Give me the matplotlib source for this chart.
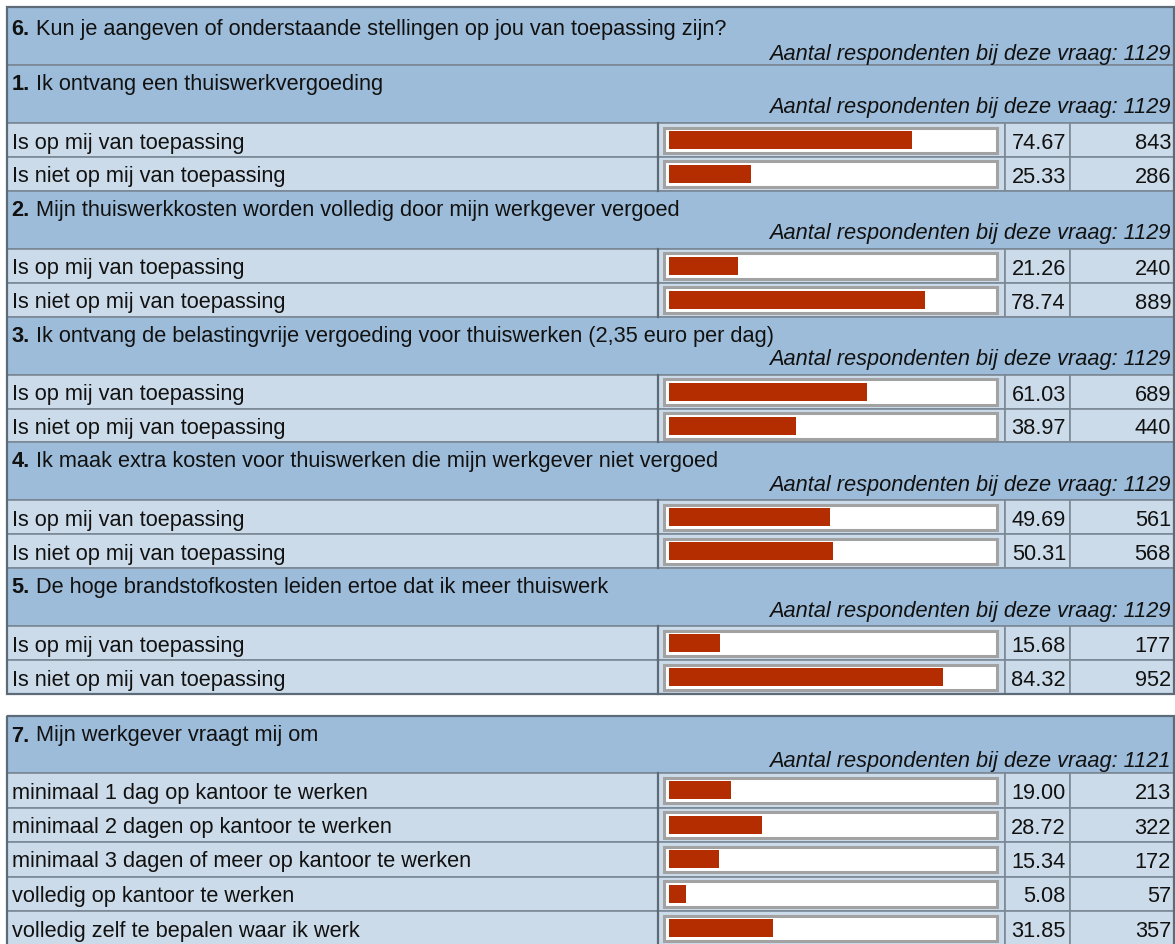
import matplotlib
matplotlib.use("Agg")
import matplotlib.pyplot as plt
from matplotlib.patches import Rectangle

plt.rcParams['font.family'] = ['Liberation Sans', 'DejaVu Sans']

# ---- data ----
main_title = "Kun je aangeven of onderstaande stellingen op jou van toepassing zijn?"
main_n = 1129
sub_titles = [
    "Ik ontvang een thuiswerkvergoeding",
    "Mijn thuiswerkkosten worden volledig door mijn werkgever vergoed",
    "Ik ontvang de belastingvrije vergoeding voor thuiswerken (2,35 euro per dag)",
    "Ik maak extra kosten voor thuiswerken die mijn werkgever niet vergoed",
    "De hoge brandstofkosten leiden ertoe dat ik meer thuiswerk",
]
sub_n = [1129, 1129, 1129, 1129, 1129]
options6 = ["Is op mij van toepassing", "Is niet op mij van toepassing"]
pct6 = [[74.67, 25.33], [21.26, 78.74], [61.03, 38.97], [49.69, 50.31], [15.68, 84.32]]
cnt6 = [[843, 286], [240, 889], [689, 440], [561, 568], [177, 952]]

q7_title = "Mijn werkgever vraagt mij om"
q7_n = 1121
options7 = [
    "minimaal 1 dag op kantoor te werken",
    "minimaal 2 dagen op kantoor te werken",
    "minimaal 3 dagen of meer op kantoor te werken",
    "volledig op kantoor te werken",
    "volledig zelf te bepalen waar ik werk",
]
pct7 = [19.00, 28.72, 15.34, 5.08, 31.85]
cnt7 = [213, 322, 172, 57, 357]

# ---- style ----
W, H = 1175, 945
HEAD = '#9dbcd9'
ROWC = '#ccdbe9'
LINE = '#7b8896'
DARK = '#5d6b79'
BAR = '#b32d00'
TXT = '#111111'
FS = 15.7
x0, x1, x2, x3, x4 = 7, 658, 1005, 1070, 1174

fig = plt.figure(figsize=(W / 100, H / 100), dpi=100)
ax = fig.add_axes([0, 0, 1, 1])
ax.set_xlim(0, W)
ax.set_ylim(H, 0)
ax.axis('off')

# bar axis: 0..100 % maps onto the bar cell
bax = fig.add_axes([669 / W, 0, 325 / W, 1], zorder=3)
bax.set_xlim(0, 100)
bax.set_ylim(H, 0)
bax.axis('off')
bax.patch.set_alpha(0)


def header(y, h, num, title, n, t_off, s_off):
    ax.add_patch(Rectangle((x0, y), x4 - x0, h, fc=HEAD, ec=LINE, lw=1.2))
    t = ax.text(11.5, y + t_off, num + ".", fontsize=FS, fontweight='bold',
                color=TXT, va='baseline')
    ax.annotate(" " + title, xy=(1, 0), xycoords=t, va='bottom', ha='left',
                fontsize=FS, color=TXT)
    ax.text(1171, y + s_off, "Aantal respondenten bij deze vraag: %d" % n,
            fontsize=FS, style='italic', color=TXT, ha='right', va='baseline')


def row(y, h, label, pct, cnt):
    for a, b in [(x0, x1), (x1, x2), (x2, x3), (x3, x4)]:
        ax.add_patch(Rectangle((a, y), b - a, h, fc=ROWC, ec=LINE, lw=1.2))
    ax.plot([x1, x1], [y, y + h], color=DARK, lw=1.6)
    ax.text(11.5, y + 24.5, label, fontsize=FS, color=TXT, va='baseline')
    ax.add_patch(Rectangle((664, y + 4.5), 333, 25.5, fc='white',
                           ec='#a2a2a2', lw=2.2))
    bax.barh(y + 17, pct, height=18, left=0, color=BAR)
    ax.text(1066, y + 25, "%.2f" % pct, fontsize=FS, color=TXT,
            ha='right', va='baseline')
    ax.text(1171, y + 25, str(cnt), fontsize=FS, color=TXT,
            ha='right', va='baseline')


# table 1
y = 8
header(y, 58, "6", main_title, main_n, 27, 52)
y += 58
for i, st in enumerate(sub_titles):
    header(y, 58, str(i + 1), st, sub_n[i], 24, 47.5)
    y += 58
    for j, opt in enumerate(options6):
        row(y, 33.9, opt, pct6[i][j], cnt6[i][j])
        y += 33.9
ax.add_patch(Rectangle((x0, 8), x4 - x0, y - 8, fill=False, ec=DARK, lw=1.6))

# table 2
y2 = 716.5
header(y2, 57.5, "7", q7_title, q7_n, 25, 50.5)
y = y2 + 57.5
for opt, p, c in zip(options7, pct7, cnt7):
    row(y, 34.5, opt, p, c)
    y += 34.5
ax.add_patch(Rectangle((x0, y2), x4 - x0, y - y2, fill=False, ec=DARK, lw=1.6))

fig.savefig("out.png", dpi=100)
